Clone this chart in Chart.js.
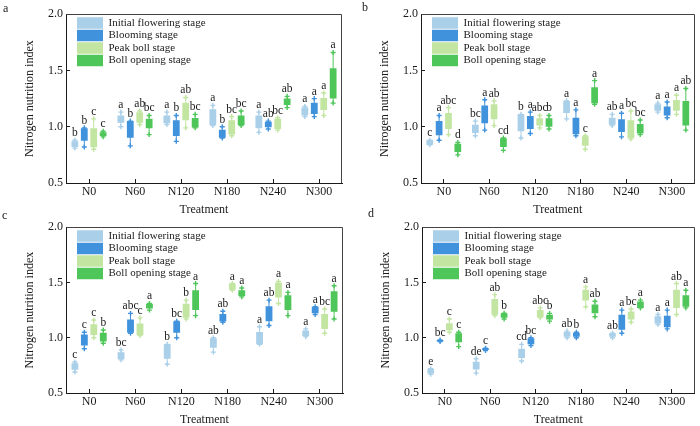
<!DOCTYPE html>
<html>
<head>
<meta charset="utf-8">
<script src="https://cdn.jsdelivr.net/npm/chart.js@4.4.0/dist/chart.umd.min.js"></script>
<style>
  body{margin:0;background:#fff;width:700px;height:426px;position:relative;overflow:hidden;font-family:'Liberation Serif',serif;}
  canvas{position:absolute;}
  .tag{position:absolute;font-size:12px;color:#1a1a1a;line-height:14px;}
</style>
</head>
<body>
<canvas id="ca" width="350" height="216" style="left:0;top:0"></canvas>
<canvas id="cb" width="345" height="216" style="left:355px;top:0"></canvas>
<canvas id="cc" width="350" height="213" style="left:0;top:213px"></canvas>
<canvas id="cd" width="344" height="213" style="left:356px;top:213px"></canvas>
<div class="tag" style="left:3px;top:1px">a</div>
<div class="tag" style="left:362px;top:0">b</div>
<div class="tag" style="left:2px;top:208px">c</div>
<div class="tag" style="left:368px;top:206px">d</div>
<script>
/* Nitrogen nutrition index box plots, 4 panels */

const TREAT  = ["N0","N60","N120","N180","N240","N300"];
const STAGES = ["Initial flowering stage","Blooming stage","Peak boll stage","Boll opening stage"];
const COLORS = ["#a9cfe9","#3f92db","#c2e5a2","#4fc65a"];
const FONT   = "'Liberation Serif', serif";
const INK    = "#1a1a1a";
const GROUP  = 0.82;   // share of a treatment slot used by its 4 boxes

// per panel: [initial, blooming, peak boll, boll opening] x treatments
// ── panel a ─────────────────────────────────────────────
const aQ1 = [[0.82,1.035,1.03,1.015,0.987,1.10],[0.875,0.903,0.917,0.903,0.996,1.114],[0.818,1.035,1.058,0.931,0.98,1.148],[0.917,0.987,0.993,1.015,1.193,1.25]];
const aQ3 = [[0.87,1.10,1.10,1.156,1.10,1.17],[0.987,1.052,1.058,0.973,1.044,1.213],[0.987,1.128,1.213,1.058,1.07,1.255],[0.95,1.07,1.077,1.10,1.25,1.52]];
const aLo = [[0.81,1.00,1.02,1.01,0.95,1.09],[0.82,0.83,0.87,0.90,0.98,1.09],[0.80,1.02,0.99,0.92,0.97,1.10],[0.91,0.93,0.99,1.01,1.17,1.21]];
const aHi = [[0.88,1.13,1.13,1.19,1.13,1.18],[0.99,1.05,1.10,1.00,1.05,1.25],[1.07,1.14,1.26,1.09,1.08,1.30],[0.96,1.10,1.11,1.14,1.27,1.66]];
const aLet = [["b","a","a","a","a","a"],["b","b","b","b","ab","a"],["c","ab","ab","bc","bc","a"],["c","bc","bc","bc","ab","a"]];
// ── panel b ─────────────────────────────────────────────
const bQ1 = [[0.84,0.945,0.96,1.123,1.018,1.143],[0.925,1.03,0.98,0.933,0.953,1.10],[0.98,1.067,1.01,0.83,0.897,1.143],[0.775,0.82,1.0,1.208,0.94,1.01]];
const bQ3 = [[0.882,1.018,1.11,1.228,1.08,1.20],[1.05,1.188,1.095,1.08,1.067,1.18],[1.123,1.20,1.075,0.916,1.058,1.237],[0.848,0.897,1.075,1.35,1.024,1.228]];
const bLo = [[0.84,0.92,0.90,1.07,1.01,1.13],[0.88,0.97,0.94,0.92,0.91,1.08],[0.93,1.01,0.99,0.80,0.89,1.11],[0.75,0.79,0.98,1.20,0.93,0.97]];
const bHi = [[0.88,1.05,1.11,1.23,1.11,1.21],[1.10,1.24,1.13,1.15,1.12,1.22],[1.17,1.23,1.10,0.92,1.14,1.28],[0.86,0.90,1.10,1.41,1.06,1.34]];
const bLet = [["c","bc","b","a","ab","a"],["a","a","a","a","a","a"],["abc","ab","abc","c","bc","a"],["d","cd","b","a","bc","ab"]];
// ── panel c ─────────────────────────────────────────────
const cQ1 = [[0.71,0.806,0.81,0.91,0.94,1.016],[0.93,1.044,1.044,1.146,1.15,1.222],[1.024,1.024,1.18,1.435,1.364,1.08],[0.967,1.265,1.25,1.378,1.25,1.236]];
const cQ3 = [[0.77,0.868,0.94,0.996,1.052,1.066],[1.03,1.166,1.15,1.214,1.285,1.28],[1.123,1.129,1.307,1.49,1.50,1.214],[1.044,1.307,1.43,1.43,1.384,1.42]];
const cLo = [[0.69,0.80,0.76,0.87,0.94,1.01],[0.90,1.04,1.00,1.14,1.11,1.21],[1.00,1.02,1.17,1.43,1.31,1.04],[0.95,1.25,1.20,1.37,1.20,1.17]];
const cHi = [[0.78,0.89,0.94,1.00,1.10,1.08],[1.05,1.22,1.15,1.24,1.34,1.28],[1.16,1.18,1.34,1.49,1.51,1.26],[1.07,1.31,1.49,1.45,1.41,1.47]];
const cLet = [["c","bc","b","ab","a","a"],["c","abc","bc","ab","ab","a"],["c","c","b","a","a","bc"],["b","a","a","a","a","a"]];
// ── panel d ─────────────────────────────────────────────
const dQ1 = [[0.676,0.712,0.817,1.01,1.01,1.129],[0.967,0.888,0.94,1.01,1.072,1.095],[1.067,1.208,1.185,1.336,1.166,1.27],[0.96,1.18,1.166,1.222,1.27,1.28]];
const dQ3 = [[0.72,0.783,0.90,1.052,1.04,1.194],[0.98,0.905,0.996,1.044,1.208,1.20],[1.13,1.35,1.25,1.435,1.237,1.435],[1.04,1.222,1.208,1.30,1.327,1.384]];
const dLo = [[0.67,0.68,0.79,1.00,1.00,1.12],[0.965,0.885,0.93,1.00,1.04,1.08],[1.05,1.20,1.18,1.28,1.14,1.21],[0.92,1.17,1.15,1.19,1.27,1.27]];
const dHi = [[0.72,0.81,0.94,1.06,1.04,1.21],[0.98,0.905,1.00,1.05,1.25,1.25],[1.17,1.39,1.27,1.46,1.26,1.49],[1.05,1.222,1.22,1.33,1.34,1.43]];
const dLet = [["e","de","cd","ab","ab","a"],["bc","c","bc","b","a","a"],["c","ab","abc","a","bc","ab"],["c","b","b","ab","a","a"]];

Chart.defaults.font.family = FONT;
Chart.defaults.color = INK;

// letters above the whiskers, legend nudge, closed frame
const panelDeco = {
    id: "panelDeco",
    afterLayout(chart){
        const lg = chart.legend, ca = chart.chartArea;
        if(lg){ lg.left = ca.left + 10; lg.top = ca.top + 2; }
    },
    afterDatasetsDraw(chart){
        const {ctx, scales:{y}} = chart;
        ctx.save();
        ctx.font = "11.5px " + FONT;
        ctx.fillStyle = INK;
        ctx.textAlign = "center";
        ctx.textBaseline = "alphabetic";
        chart.data.datasets.forEach((ds, di)=>{
            if(!ds.letters) return;
            const meta = chart.getDatasetMeta(di);
            ds.letters.forEach((t, i)=>{
                ctx.fillText(t, meta.data[i].x, y.getPixelForValue(ds.hi[i]) - 4);
            });
        });
        ctx.restore();
    },
    afterDraw(chart){
        const {ctx, chartArea:a} = chart;
        ctx.save();
        ctx.strokeStyle = "#444";
        ctx.lineWidth = 1;
        ctx.beginPath();
        ctx.moveTo(Math.round(a.left)+0.5, Math.round(a.top)+0.5);
        ctx.lineTo(Math.round(a.right)-0.5, Math.round(a.top)+0.5);
        ctx.lineTo(Math.round(a.right)-0.5, Math.round(a.bottom));
        ctx.stroke();
        ctx.restore();
    }
};

function makePanel(id, pad, q1, q3, lo, hi, lets){
    // centre of stage k's box inside a treatment slot, in slot units
    const off = k => GROUP*(k-1.5)/4;
    const boxes = [], whisk = [];
    STAGES.forEach((name, k)=>{
        boxes.push({label:name, type:"bar", xAxisID:"x2", grouped:false,
            data:TREAT.map((t,i)=>({x:i+off(k), y:[q1[k][i], q3[k][i]]})),
            backgroundColor:COLORS[k], borderWidth:0,
            barPercentage:0.72, categoryPercentage:1, order:1,
            letters:lets[k], hi:hi[k]});
        // whisker line lo→hi with "+" caps, gap (null) between treatments
        whisk.push({label:"_w"+k, type:"scatter", xAxisID:"x2", showLine:true, spanGaps:false,
            data:TREAT.flatMap((t,i)=>[{x:i+off(k), y:lo[k][i]}, {x:i+off(k), y:hi[k][i]}, {x:i+off(k), y:null}]),
            borderColor:COLORS[k], borderWidth:1,
            pointStyle:"cross", pointRadius:2.5, pointBorderWidth:1.4,
            pointBorderColor:COLORS[k], order:2});
    });

    new Chart(document.getElementById(id), {
        type:"bar",
        data:{labels:TREAT, datasets:[...boxes, ...whisk]},
        options:{
            responsive:false, animation:false,
            layout:{padding:{left:0, right:pad.r, top:pad.t, bottom:0}},
            plugins:{
                legend:{position:"chartArea", align:"start",
                    labels:{boxWidth:26, boxHeight:11.5, padding:1, color:INK,
                        font:{size:11, family:FONT},
                        filter:it=>!it.text.startsWith("_")}},
                tooltip:{enabled:false}
            },
            scales:{
                x:{type:"category", offset:true,
                   grid:{offset:false, drawOnChartArea:false, tickLength:-4, color:INK},
                   border:{color:INK},
                   ticks:{padding:6, color:INK, font:{size:12}},
                   title:{display:true, text:"Treatment", color:INK, font:{size:12, lineHeight:1}, padding:0},
                   afterFit:s=>{ s.height = pad.xh; }},
                x2:{type:"linear", display:false, offset:false, min:-0.5, max:5.5},
                y:{min:0.5, max:2.0,
                   grid:{drawOnChartArea:false, tickLength:-4, color:INK},
                   border:{color:INK},
                   ticks:{stepSize:0.5, padding:7, color:INK, font:{size:12}, callback:v=>v.toFixed(1)},
                   title:{display:true, text:"Nitrogen nutrition index", color:INK, font:{size:12, lineHeight:1}, padding:{top:24, bottom:0}},
                   afterFit:s=>{ s.width = 66; }}
            }
        },
        plugins:[panelDeco]
    });
}

makePanel("ca", {r:8, t:5, xh:33}, aQ1, aQ3, aLo, aHi, aLet);
makePanel("cb", {r:3, t:5, xh:33}, bQ1, bQ3, bLo, bHi, bLet);
makePanel("cc", {r:7, t:3, xh:33}, cQ1, cQ3, cLo, cHi, cLet);
makePanel("cd", {r:3, t:3, xh:33}, dQ1, dQ3, dLo, dHi, dLet);
</script>
</body>
</html>
